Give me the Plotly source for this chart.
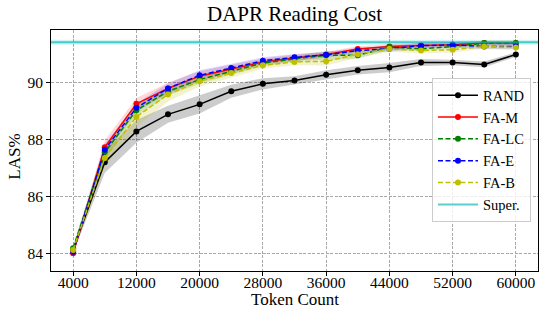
import plotly.graph_objects as go

tokens = [4000, 8000, 12000, 16000, 20000, 24000, 28000, 32000, 36000, 40000, 44000, 48000, 52000, 56000, 60000]

rand_mean = [84.14, 87.22, 88.30, 88.90, 89.25, 89.71, 89.97, 90.09, 90.29, 90.45, 90.54, 90.72, 90.72, 90.65, 91.00]
rand_sd = [0.10, 0.38, 0.40, 0.30, 0.32, 0.23, 0.20, 0.15, 0.16, 0.15, 0.16, 0.12, 0.10, 0.10, 0.08]

fam_mean = [84.02, 87.74, 89.27, 89.81, 90.24, 90.49, 90.74, 90.88, 91.00, 91.19, 91.28, 91.32, 91.34, 91.40, 91.40]
fam_sd = [0.10, 0.25, 0.20, 0.20, 0.18, 0.15, 0.12, 0.12, 0.10, 0.10, 0.08, 0.08, 0.08, 0.07, 0.07]

falc_mean = [84.20, 87.57, 89.04, 89.71, 90.12, 90.41, 90.70, 90.85, 90.97, 90.97, 91.26, 91.20, 91.28, 91.40, 91.40]
falc_sd = [0.12, 0.25, 0.20, 0.15, 0.15, 0.12, 0.12, 0.10, 0.15, 0.12, 0.10, 0.08, 0.08, 0.10, 0.10]

fae_mean = [84.08, 87.66, 89.13, 89.81, 90.27, 90.53, 90.78, 90.90, 90.99, 91.14, 91.20, 91.31, 91.34, 91.28, 91.28]
fae_sd = [0.10, 0.20, 0.15, 0.18, 0.18, 0.15, 0.12, 0.12, 0.10, 0.10, 0.10, 0.10, 0.10, 0.10, 0.10]

fab_mean = [84.14, 87.37, 88.81, 89.60, 90.06, 90.35, 90.62, 90.74, 90.76, 91.01, 91.20, 91.14, 91.17, 91.28, 91.25]
fab_sd = [0.10, 0.30, 0.35, 0.25, 0.18, 0.15, 0.12, 0.12, 0.15, 0.12, 0.10, 0.10, 0.10, 0.08, 0.08]

super_value = 91.43
super_sd = 0.09

x_range = [1200, 62800]
y_range = [83.4, 91.86]
x_ticks = [4000, 12000, 20000, 28000, 36000, 44000, 52000, 60000]
y_ticks = [84, 86, 88, 90]

FONT = "Liberation Serif"

series = [
    ("RAND", rand_mean, rand_sd, "black", "solid", "rgba(0,0,0,0.2)"),
    ("FA-M", fam_mean, fam_sd, "red", "solid", "rgba(255,0,0,0.15)"),
    ("FA-LC", falc_mean, falc_sd, "green", "5px,2.5px", "rgba(0,128,0,0.15)"),
    ("FA-E", fae_mean, fae_sd, "blue", "5px,2.5px", "rgba(0,0,255,0.15)"),
    ("FA-B", fab_mean, fab_sd, "#bfbf00", "5px,2.5px", "rgba(191,191,0,0.2)"),
]

fig = go.Figure()

# Super. band
fig.add_trace(go.Scatter(x=x_range, y=[super_value + super_sd] * 2, mode="lines",
                         line=dict(width=0), showlegend=False, hoverinfo="skip"))
fig.add_trace(go.Scatter(x=x_range, y=[super_value - super_sd] * 2, mode="lines",
                         line=dict(width=0), fill="tonexty", fillcolor="rgba(0,191,191,0.18)",
                         showlegend=False, hoverinfo="skip"))

for name, m, s, col, dash, fcol in series:
    up = [a + b for a, b in zip(m, s)]
    lo = [a - b for a, b in zip(m, s)]
    fig.add_trace(go.Scatter(x=tokens, y=up, mode="lines", line=dict(width=0),
                             showlegend=False, hoverinfo="skip", legendgroup=name))
    fig.add_trace(go.Scatter(x=tokens, y=lo, mode="lines", line=dict(width=0),
                             fill="tonexty", fillcolor=fcol, showlegend=False,
                             hoverinfo="skip", legendgroup=name))

for name, m, s, col, dash, fcol in series:
    fig.add_trace(go.Scatter(x=tokens, y=m, mode="lines+markers", name=name,
                             line=dict(color=col, width=1.5, dash=dash),
                             marker=dict(color=col, size=6), legendgroup=name))

fig.add_trace(go.Scatter(x=x_range, y=[super_value] * 2, mode="lines", name="Super.",
                         line=dict(color="rgba(0,180,180,0.65)", width=2), legendgroup="Super."))

axis_common = dict(
    showline=True, linecolor="black", linewidth=1, mirror=True,
    ticks="outside", ticklen=4, tickcolor="black", tickwidth=1,
    showgrid=True, gridcolor="#a8a8a8", gridwidth=0.8, griddash="3px,1.5px",
    zeroline=False, tickfont=dict(family=FONT, size=15.5, color="black"),
    automargin=False,
)

plot_l, plot_r, plot_t, plot_b = 51, 538, 30, 271

fig.update_layout(
    width=540, height=311,
    margin=dict(l=plot_l, r=540 - plot_r, t=plot_t, b=311 - plot_b, autoexpand=False),
    paper_bgcolor="white", plot_bgcolor="white",
    font=dict(family=FONT, color="black"),
    title=dict(text="DAPR Reading Cost", font=dict(family=FONT, size=21, color="black"),
               x=0.5, xref="paper", xanchor="center", y=0.955, yref="container", yanchor="middle",
               automargin=False),
    xaxis=dict(range=x_range, tickvals=x_ticks, ticktext=[str(t) for t in x_ticks],
               ticklabelstandoff=-7, **axis_common),
    yaxis=dict(range=y_range, tickvals=y_ticks, ticktext=[str(t) for t in y_ticks],
               **axis_common),
    annotations=[
        dict(text="Token Count", xref="paper", yref="paper", x=0.5,
             y=(plot_b - 311) / (plot_b - plot_t), showarrow=False,
             font=dict(family=FONT, size=17, color="black"), xanchor="center", yanchor="bottom"),
        dict(text="LAS%", xref="paper", yref="paper", x=(15 - plot_l) / (plot_r - plot_l),
             y=(plot_b - 156.7) / (plot_b - plot_t), showarrow=False, textangle=-90,
             font=dict(family=FONT, size=17, color="black"), xanchor="center", yanchor="middle"),
    ],
    legend=dict(x=0.9856, y=0.8, xanchor="right", yanchor="top",
                bgcolor="rgba(255,255,255,0.8)", bordercolor="#cccccc", borderwidth=1,
                font=dict(family=FONT, size=14.5, color="black"), tracegroupgap=0,
                itemwidth=40, entrywidth=52),
    showlegend=True,
)

fig.write_html("out.html", config={"displayModeBar": False},
               post_script="document.body.style.margin='0';document.body.style.overflow='hidden';")
